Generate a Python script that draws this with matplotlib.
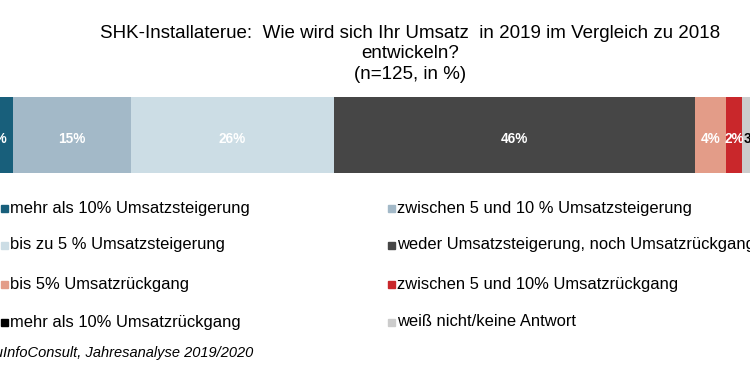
import numpy as np
import matplotlib
matplotlib.use("Agg")
import matplotlib.pyplot as plt
from matplotlib.patches import Rectangle

plt.rcParams['font.family'] = ['Liberation Sans', 'DejaVu Sans']

# data
categories = ["mehr als 10% Umsatzsteigerung",
              "zwischen 5 und 10 % Umsatzsteigerung",
              "bis zu 5 % Umsatzsteigerung",
              "weder Umsatzsteigerung, noch Umsatzrückgang",
              "bis 5% Umsatzrückgang",
              "zwischen 5 und 10% Umsatzrückgang",
              "mehr als 10% Umsatzrückgang",
              "weiß nicht/keine Antwort"]
values = [4, 15, 26, 46, 4, 2, 0, 3]
colors = ["#185F7B", "#A3B9C8", "#CCDDE5", "#464646",
          "#E39C88", "#C9272B", "#000000", "#CCCCCC"]
label_colors = ["white"] * 6 + ["black", "black"]

W, H = 750, 371
fig = plt.figure(figsize=(7.5, 3.71), dpi=100)

# bar axes (the original is cropped on both sides)
x0, x1 = -18.4, 765.6
y_top, y_bot = 97, 173
ax = fig.add_axes([x0 / W, 1 - y_bot / H, (x1 - x0) / W, (y_bot - y_top) / H])
left = 0
for v, c, lc in zip(values, colors, label_colors):
    ax.barh(0, v, left=left, height=1, color=c, edgecolor="none")
    if v > 0:
        ax.text(left + v / 2, -0.05, f"{v}%", ha="center", va="center",
                color=lc, fontsize=9.8, fontweight="bold")
    left += v
ax.set_xlim(0, 100)
ax.set_ylim(-0.5, 0.5)
ax.axis("off")

fig.text(410 / W, 1 - 54 / H,
         "SHK-Installaterue:  Wie wird sich Ihr Umsatz  in 2019 im Vergleich zu 2018\nentwickeln?\n(n=125, in %)",
         ha="center", va="center", fontsize=13.5, linespacing=1.24)

# legend, two columns
col_x = [10, 397]
row_y = [208, 245, 284, 322]
for i, (cat, c) in enumerate(zip(categories, colors)):
    tx = col_x[i % 2]
    ty = row_y[i // 2]
    fig.patches.append(Rectangle(((tx - 9) / W, 1 - (ty + 3.5) / H), 7 / W, 7 / H,
                                 transform=fig.transFigure, color=c))
    fig.text(tx / W, 1 - ty / H, cat, ha="left", va="center", fontsize=11.9)

fig.text(253 / W, 1 - 353 / H, "BauInfoConsult, Jahresanalyse 2019/2020",
         ha="right", va="center", fontsize=10.5, style="italic")

fig.savefig("out.png", dpi=100, facecolor="white")
